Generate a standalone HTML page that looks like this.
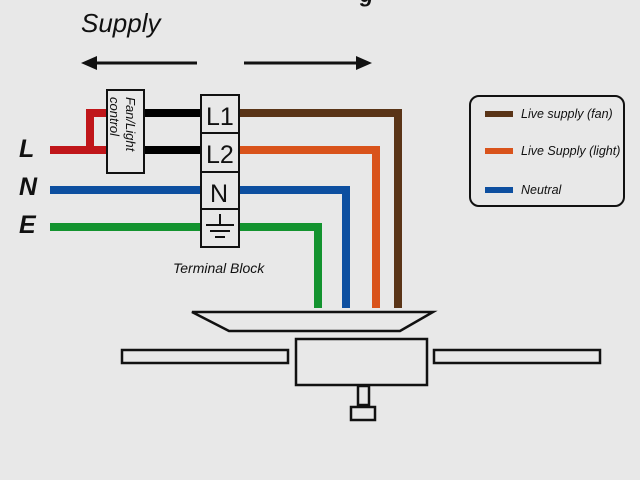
<!DOCTYPE html>
<html><head><style>
body{margin:0;background:#e8e8e8;}
svg{display:block;}
text{font-family:"Liberation Sans",sans-serif;font-style:italic;fill:#111;}
</style></head><body>
<svg width="640" height="480" viewBox="0 0 640 480" xmlns="http://www.w3.org/2000/svg">
<rect width="640" height="480" fill="#e8e8e8"/>
<text x="360" y="2" font-size="22" font-weight="bold" font-style="normal">g</text>
<text x="81" y="32" font-size="26">Supply</text>
<line x1="92" y1="63" x2="197" y2="63" stroke="#111" stroke-width="3"/>
<polygon points="81,63 97,56 97,70" fill="#111"/>
<line x1="244" y1="63" x2="360" y2="63" stroke="#111" stroke-width="3"/>
<polygon points="372,63 356,56 356,70" fill="#111"/>
<g fill="none" stroke-width="8">
<polyline points="50,150 90,150 90,113 108,113" stroke="#c0161a"/>
<line x1="90" y1="150" x2="108" y2="150" stroke="#c0161a"/>
<line x1="144" y1="113" x2="200" y2="113" stroke="#000"/>
<line x1="144" y1="150" x2="200" y2="150" stroke="#000"/>
<line x1="50" y1="190" x2="200" y2="190" stroke="#0d4fa0"/>
<line x1="50" y1="227" x2="200" y2="227" stroke="#13932f"/>
<polyline points="239,113 398,113 398,308" stroke="#5a3417"/>
<polyline points="239,150 376,150 376,308" stroke="#d9531b"/>
<polyline points="239,190 346,190 346,308" stroke="#0d4fa0"/>
<polyline points="239,227 318,227 318,308" stroke="#13932f"/>
</g>
<rect x="107" y="90" width="37" height="83" fill="#e8e8e8" stroke="#111" stroke-width="2"/>
<text font-size="13" transform="translate(126,97) rotate(90)">Fan/Light</text>
<text font-size="13" transform="translate(110,97) rotate(90)">control</text>
<rect x="201" y="95" width="38" height="152" fill="#e8e8e8" stroke="#111" stroke-width="2"/>
<line x1="201" y1="133" x2="239" y2="133" stroke="#111" stroke-width="2"/>
<line x1="201" y1="172" x2="239" y2="172" stroke="#111" stroke-width="2"/>
<line x1="201" y1="209" x2="239" y2="209" stroke="#111" stroke-width="2"/>
<g font-size="25">
<text x="206" y="125" style="font-style:normal">L1</text>
<text x="206" y="163" style="font-style:normal">L2</text>
<text x="210" y="202" style="font-style:normal">N</text>
</g>
<g stroke="#111" stroke-width="2">
<line x1="220" y1="214" x2="220" y2="224"/>
<line x1="206" y1="225" x2="234" y2="225"/>
<line x1="210" y1="231" x2="230" y2="231"/>
<line x1="215" y1="237" x2="225" y2="237"/>
</g>
<text x="173" y="273" font-size="14">Terminal Block</text>
<text x="19" y="157" font-size="25" font-weight="bold">L</text>
<text x="19" y="195" font-size="25" font-weight="bold">N</text>
<text x="19" y="233" font-size="25" font-weight="bold">E</text>
<rect x="470" y="96" width="154" height="110" rx="9" fill="none" stroke="#111" stroke-width="2"/>
<rect x="485" y="111" width="28" height="6" fill="#5a3417"/>
<rect x="485" y="148" width="28" height="6" fill="#d9531b"/>
<rect x="485" y="187" width="28" height="6" fill="#0d4fa0"/>
<text x="521" y="118" font-size="12.5">Live supply (fan)</text>
<text x="521" y="155" font-size="12.5">Live Supply (light)</text>
<text x="521" y="194" font-size="12.5">Neutral</text>
<g fill="none" stroke="#111" stroke-width="2.5">
<polygon points="192,312 433,312 400,331 229,331"/>
<rect x="296" y="339" width="131" height="46"/>
<rect x="122" y="350" width="166" height="13"/>
<rect x="434" y="350" width="166" height="13"/>
<rect x="358" y="386" width="11" height="19"/>
<rect x="351" y="407" width="24" height="13"/>
</g>
</svg>
</body></html>
